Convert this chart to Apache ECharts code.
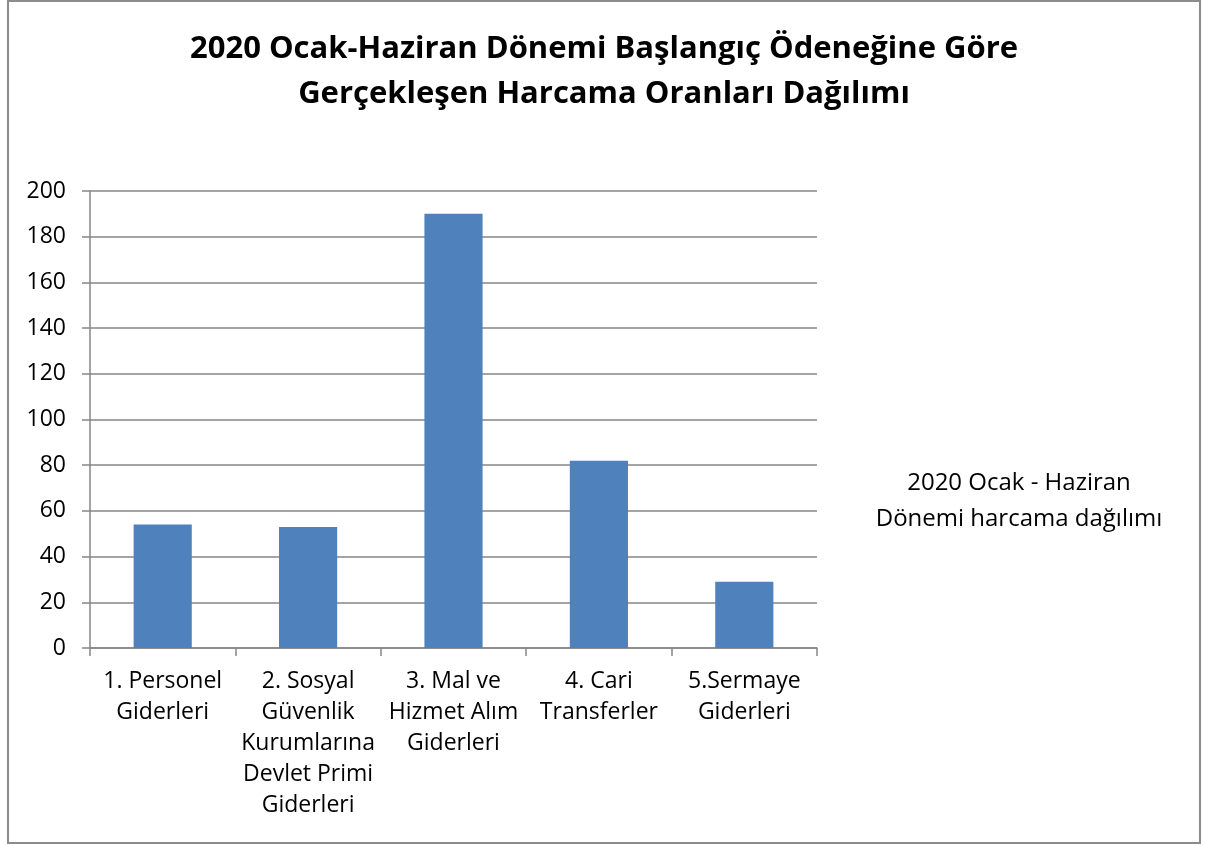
<!DOCTYPE html>
<html>
<head>
<meta charset="utf-8">
<script src="https://cdn.jsdelivr.net/npm/echarts@6/dist/echarts.min.js"></script>
<style>
html,body{margin:0;padding:0;background:#fff;}
#chart{width:1208px;height:845px;}
</style>
</head>
<body>
<div id="chart"></div>
<script>
const titleText = "2020 Ocak-Haziran Dönemi Başlangıç Ödeneğine Göre\nGerçekleşen Harcama Oranları Dağılımı";
const seriesName = "2020 Ocak - Haziran\nDönemi harcama dağılımı";
const categories = [
  "1. Personel\nGiderleri",
  "2. Sosyal\nGüvenlik\nKurumlarına\nDevlet Primi\nGiderleri",
  "3. Mal ve\nHizmet Alım\nGiderleri",
  "4. Cari\nTransferler",
  "5.Sermaye\nGiderleri"
];
const values = [54, 53, 190, 82, 29];
const yMin = 0, yMax = 200, yStep = 20;

const FONT = "'Open Sans', sans-serif";
const chart = echarts.init(document.getElementById('chart'), null, {renderer: 'canvas'});
chart.setOption({
  backgroundColor: '#ffffff',
  animation: false,
  textStyle: {fontFamily: FONT},
  title: {
    text: titleText,
    left: 'center',
    top: 22,
    textStyle: {fontFamily: FONT, fontWeight: 'bold', fontSize: 31, lineHeight: 45, color: '#000'}
  },
  graphic: [
    {type: 'rect', shape: {x: 8, y: 1, width: 1192, height: 842},
     style: {fill: 'none', stroke: '#8c8c8c', lineWidth: 2}, silent: true, z: -1},
    {type: 'text', x: 1019, y: 501,
     style: {text: seriesName, align: 'center', verticalAlign: 'middle', fontFamily: FONT, fontSize: 24, lineHeight: 36, fill: '#000'},
     silent: true}
  ],
  grid: {left: 90, right: 391, top: 191, bottom: 197, containLabel: false},
  xAxis: {
    type: 'category',
    data: categories,
    axisLine: {lineStyle: {color: '#868686', width: 1.5}},
    axisTick: {show: true, length: 8, lineStyle: {color: '#868686', width: 1.5}},
    axisLabel: {interval: 0, color: '#000', fontFamily: FONT, fontSize: 23, lineHeight: 31, margin: 18}
  },
  yAxis: {
    type: 'value',
    min: yMin, max: yMax, interval: yStep,
    axisLine: {show: true, lineStyle: {color: '#868686', width: 1.5}},
    axisTick: {show: true, length: 8, lineStyle: {color: '#868686', width: 1.5}},
    splitLine: {lineStyle: {color: '#868686', width: 1.5}},
    axisLabel: {color: '#000', fontFamily: FONT, fontSize: 23, margin: 24}
  },
  series: [{
    name: seriesName,
    type: 'bar',
    data: values,
    barWidth: '40%',
    itemStyle: {color: '#4F81BD'}
  }]
});
</script>
</body>
</html>
